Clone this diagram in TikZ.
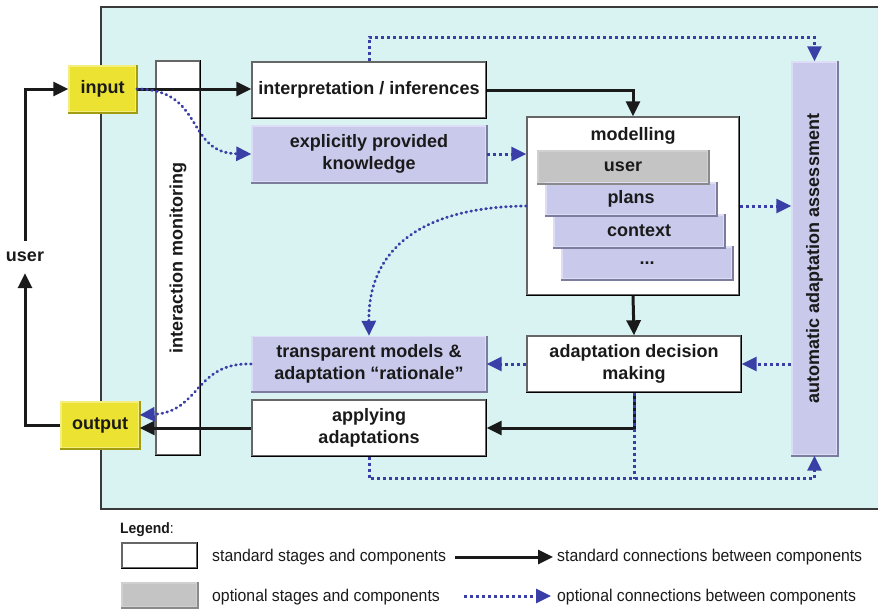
\documentclass[tikz,border=0pt]{standalone}
\usepackage{fontspec}
\setmainfont{Liberation Sans}
\newfontfamily\legendfont[FakeStretch=0.93]{Liberation Sans}
\usetikzlibrary{arrows.meta}

\definecolor{panelbg}{HTML}{D8F3F2}
\definecolor{panelrule}{HTML}{3A3A3A}
\definecolor{lavender}{HTML}{C9C9EC}
\definecolor{lavlight}{HTML}{DDDDF5}
\definecolor{lavdark}{HTML}{7C7C9E}
\definecolor{optgray}{HTML}{C4C4C4}
\definecolor{graydark}{HTML}{8A8A8A}
\definecolor{ioyellow}{HTML}{ECE232}
\definecolor{yellight}{HTML}{F4EE80}
\definecolor{yeldark}{HTML}{A29C10}
\definecolor{optblue}{HTML}{3A3FA8}
\definecolor{ink}{HTML}{1A1A1A}

\tikzset{
  lbl/.style={font=\fontsize{18}{22}\selectfont\bfseries, text=ink, align=center},
  stdbox/.style={lbl, fill=white, draw=black!60, line width=1.4pt, inner sep=0pt},
  optbox/.style={lbl, fill=lavender, draw=lavlight, line width=1.4pt, inner sep=0pt},
  greybox/.style={lbl, fill=optgray, draw=optgray!80!white, line width=1.4pt, inner sep=0pt},
  iobox/.style={lbl, fill=ioyellow, draw=yellight, line width=1.4pt, inner sep=0pt},
  stdedge/.style={draw=black, line width=1.4pt},
  optedge/.style={draw=lavdark, line width=1.6pt},
  greyedge/.style={draw=graydark, line width=1.6pt},
  ioedge/.style={draw=yeldark, line width=1.6pt},
  stdline/.style={draw=ink, line width=3pt, -{Triangle[length=15pt,width=14pt]}},
  optline/.style={draw=optblue, line width=3pt, dash pattern=on 3.2pt off 2.8pt,
                  -{Triangle[length=15pt,width=14pt]}},
  optcurve/.style={draw=optblue, line width=2.8pt, line cap=round,
                   dash pattern=on 0.8pt off 4.2pt,
                   -{Triangle[length=15pt,width=14pt]}},
  legtext/.style={font=\legendfont\fontsize{17}{20}\selectfont, text=ink, anchor=west, inner sep=0pt},
}

\begin{document}
\begin{tikzpicture}[x=1pt,y=-1pt]
\useasboundingbox (0,0) rectangle (878,608);

% system panel
\path[fill=panelbg] (101,7) rectangle (884,509);
\draw[panelrule, line width=2pt] (884,7) -- (101,7) -- (101,509) -- (884,509);

% interaction monitoring column (lies under the connectors)
\node[stdbox, minimum width=44pt, minimum height=394pt,
      label={[lbl, rotate=90]center:interaction monitoring}] (monitor) at (178,258) {};

% stages and components
\node[iobox, minimum width=67pt, minimum height=46pt] (in) at (102.5,89) {input};
\node[iobox, minimum width=78pt, minimum height=46pt] (out) at (100,425) {output};
\node[stdbox, minimum width=234pt, minimum height=56pt] (interp) at (369,90) {interpretation / inferences};
\node[optbox, minimum width=234pt, minimum height=56pt] (explicit) at (369,154) {explicitly provided\\knowledge};
\node[stdbox, minimum width=212pt, minimum height=178pt] (modelling) at (633,206) {};
\node[lbl] (modtitle) at (633,136) {modelling};
\node[greybox, minimum width=170pt, minimum height=32pt] (muser) at (623,167) {user};
\node[optbox, minimum width=170pt, minimum height=32pt] (plans) at (631,199) {plans};
\node[optbox, minimum width=170pt, minimum height=32pt] (context) at (639,231) {context};
\node[optbox, minimum width=170pt, minimum height=32pt] (more) at (647,263) {...};
\node[optbox, minimum width=45pt, minimum height=393pt,
      label={[lbl, rotate=90]center:automatic adaptation assessment}] (assess) at (814.5,258.5) {};
\node[optbox, minimum width=234pt, minimum height=55pt] (transp) at (369,364) {transparent models \&\\adaptation \textquotedblleft rationale\textquotedblright};
\node[stdbox, minimum width=214pt, minimum height=56pt] (decision) at (634,364) {adaptation decision\\making};
\node[stdbox, minimum width=234pt, minimum height=56pt] (applying) at (369,428) {applying\\adaptations};

% shaded lower and right edges
\foreach \n in {monitor, interp, modelling, decision, applying}
  \draw[stdedge] (\n.south west) -- (\n.south east) -- (\n.north east);
\foreach \n in {explicit, plans, context, more, assess, transp}
  \draw[optedge] (\n.south west) -- (\n.south east) -- (\n.north east);
\draw[greyedge] (muser.south west) -- (muser.south east) -- (muser.north east);
\foreach \n in {in, out}
  \draw[ioedge] (\n.south west) -- (\n.south east) -- (\n.north east);

% the user loop
\node[lbl, inner xsep=0pt, inner ysep=11pt] (userlbl) at (25,257) {user};
\draw[stdline] (out.west) -| (userlbl.south);
\draw[stdline] (userlbl.north) |- (in.west);

% standard connections
\draw[stdline] (in.east) -- (in.east -| interp.west);
\draw[stdline] (interp.east) -| (modelling.north);
\draw[stdline] (modelling.south) -- (decision.north);
\draw[stdline] (decision.south) |- (applying.east);
\draw[stdline] (applying.west) -- (applying.west -| out.east);

% optional connections
\draw[optcurve] (in.east) .. controls (205,89) and (185,153) .. (explicit.west);
\draw[optline] (explicit.east) -- (explicit.east -| modelling.west);
\draw[optline] (interp.north) -- ++(0,-24) -| (assess.north);
\draw[optline] (modelling.east) -- (modelling.east -| assess.west);
\draw[optcurve] (modelling.west) .. controls (420,207) and (368,250) .. (transp.north);
\draw[optline] (decision.west) -- (decision.west -| transp.east);
\draw[optline] (assess.west |- decision.east) -- (decision.east);
\draw[optcurve] (transp.west) .. controls (195,362) and (200,412) .. ([yshift=10pt]out.east);
\draw[optline, -] (decision.south) -- ++(0,86);
\draw[optline] (applying.south) -- ++(0,22) -| (assess.south);

% legend
\node[legtext, font=\legendfont\fontsize{15}{20}\selectfont] (leghead) at (120,530) {\textbf{Legend}:};
\node[stdbox, minimum width=75pt, minimum height=25pt] (legstd) at (159.5,555.5) {};
\draw[stdedge] (legstd.south west) -- (legstd.south east) -- (legstd.north east);
\node[greybox, minimum width=75pt, minimum height=24pt] (legopt) at (159.5,595) {};
\draw[greyedge] (legopt.south west) -- (legopt.south east) -- (legopt.north east);
\node[legtext] (legstdtxt) at (212,557) {standard stages and components};
\node[legtext] (legopttxt) at (212,597) {optional stages and components};
\node[legtext] (legstdcon) at (557,557) {standard connections between components};
\node[legtext] (legoptcon) at (557,597) {optional connections between components};
\coordinate (lsa) at (455,557);
\coordinate (lsb) at (553,557);
\coordinate (loa) at (464,596);
\coordinate (lob) at (551,596);
\draw[stdline] (lsa) -- (lsb);
\draw[optline] (loa) -- (lob);
\end{tikzpicture}
\end{document}
